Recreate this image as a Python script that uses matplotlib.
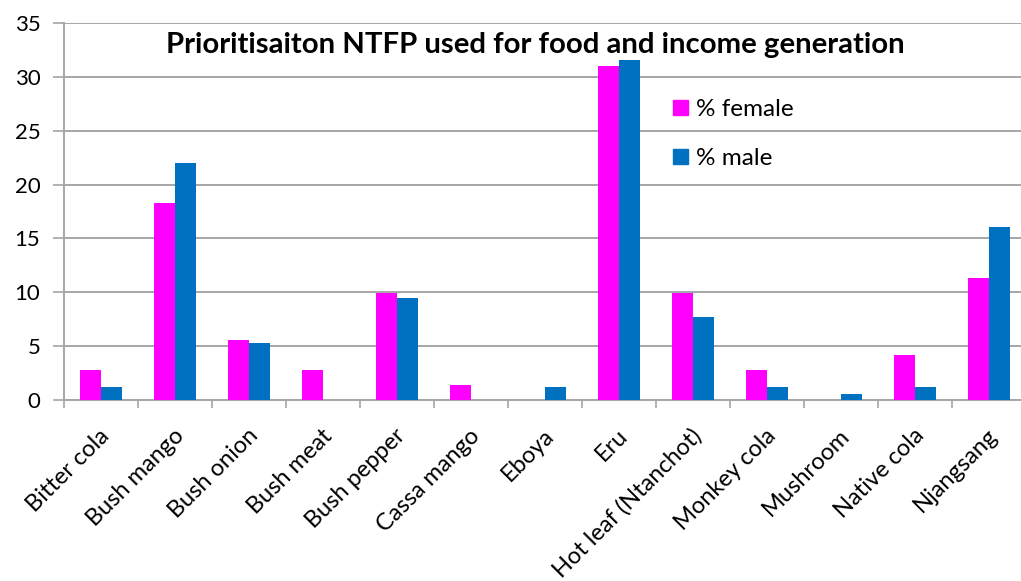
import numpy as np
import matplotlib.pyplot as plt
import matplotlib.transforms as mtransforms
from matplotlib.patches import Patch

plt.rcParams['font.family'] = ['Lato', 'DejaVu Sans']

products = ['Bitter cola', 'Bush mango', 'Bush onion', 'Bush meat', 'Bush pepper',
            'Cassa mango', 'Eboya', 'Eru', 'Hot leaf (Ntanchot)', 'Monkey cola',
            'Mushroom', 'Native cola', 'Njangsang']
female = [2.8, 18.3, 5.6, 2.8, 9.9, 1.4, 0, 31.0, 9.9, 2.8, 0, 4.2, 11.3]
male = [1.2, 22.0, 5.3, 0, 9.5, 0, 1.2, 31.6, 7.7, 1.2, 0.6, 1.2, 16.1]
yticks = [0, 5, 10, 15, 20, 25, 30, 35]

pink = '#FF00FF'
blue = '#0070C0'
grey = '#A6A6A6'

W, H = 1021, 581
fig = plt.figure(figsize=(W / 100, H / 100), dpi=100)
ax = fig.add_axes([64 / W, 1 - 400 / H, (1026 - 64) / W, (400 - 23) / H])

x = np.arange(len(products))
bw = 0.28
ax.bar(x - bw / 2, female, bw, color=pink, zorder=3)
ax.bar(x + bw / 2, male, bw, color=blue, zorder=3)

ax.set_xlim(-0.5, len(products) - 0.5)
ax.set_ylim(0, 35)
ax.set_yticks(yticks)
ax.yaxis.grid(True, color=grey, linewidth=1.4, zorder=0)
ax.set_axisbelow(True)

for s in ['top', 'right']:
    ax.spines[s].set_visible(False)
for s in ['left', 'bottom']:
    ax.spines[s].set_color(grey)
    ax.spines[s].set_linewidth(1.4)

ax.tick_params(axis='y', length=8, width=1.2, color=grey, labelsize=16, pad=9)
ax.set_xticks(x)
ax.set_xticklabels(products, rotation=45, ha='right', va='top',
                   rotation_mode='anchor', fontsize=17)
ax.tick_params(axis='x', which='major', length=0, pad=18)
ax.set_xticks(np.arange(-0.5, len(products), 1.0), minor=True)
ax.tick_params(axis='x', which='minor', length=6, width=1.2, color=grey)

# shift rotated labels so their top-right corners sit beside the bars
offset = mtransforms.ScaledTranslation(-2 / 100, 0, fig.dpi_scale_trans)
for lbl in ax.get_xticklabels():
    lbl.set_transform(lbl.get_transform() + offset)

fig.text(535 / W, 1 - 45 / H, 'Prioritisaiton NTFP used for food and income generation',
         ha='center', va='center', fontsize=21.2, fontweight='bold')

handles = [Patch(color=pink, label='% female'), Patch(color=blue, label='% male')]
fig.legend(handles=handles, loc='upper left', bbox_to_anchor=(673 / W, 1 - 99 / H),
           frameon=False, fontsize=17.5, handlelength=0.6, handleheight=0.6,
           handletextpad=0.35, labelspacing=1.15, borderpad=0, borderaxespad=0)

fig.savefig('out.png', dpi=100, facecolor='white')
